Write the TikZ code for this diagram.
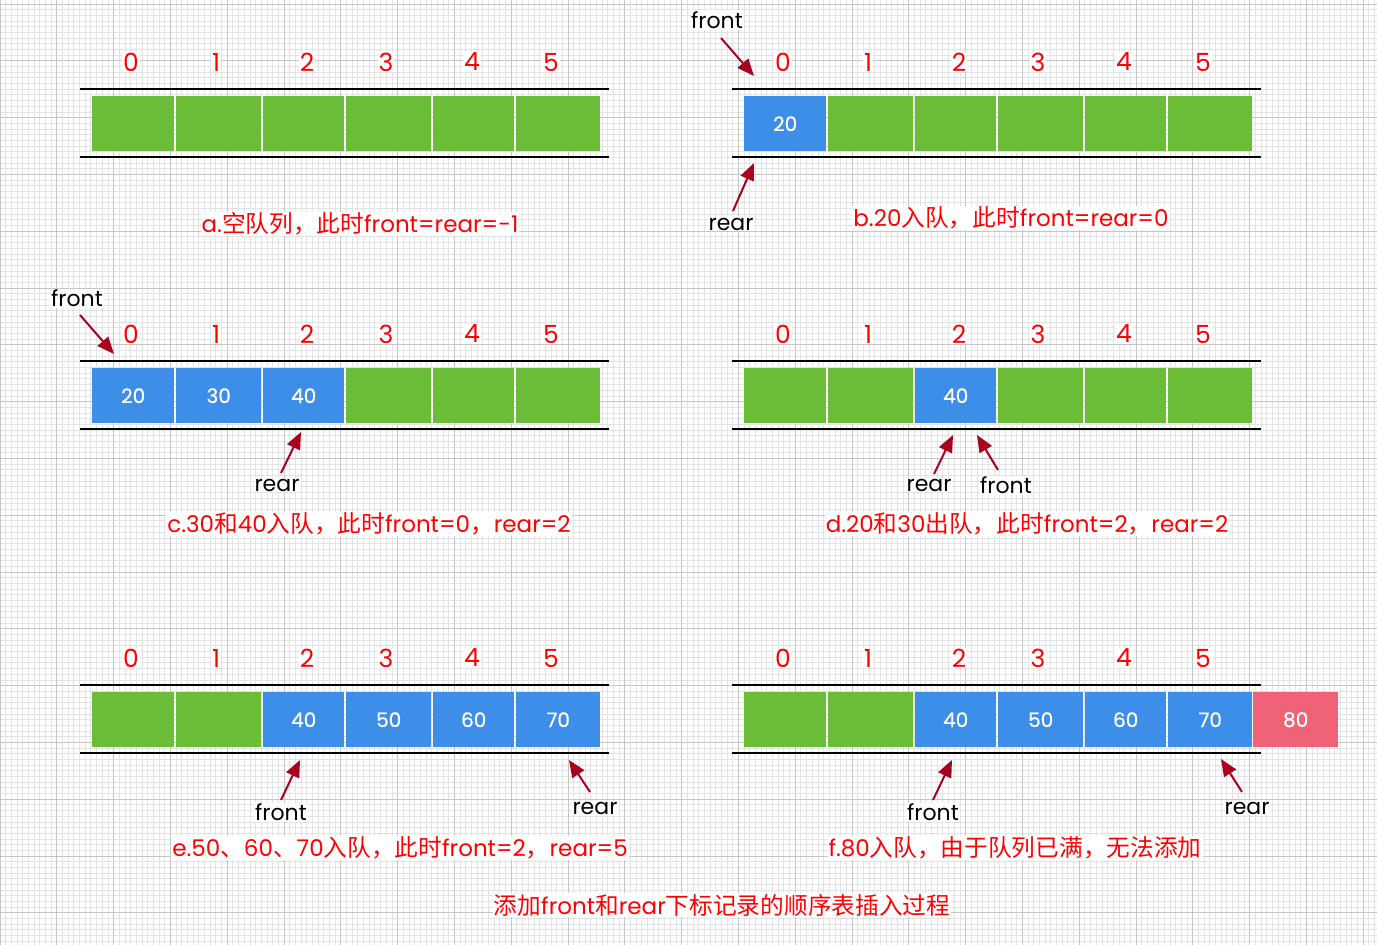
\documentclass[tikz,border=0pt]{standalone}
\usepackage{fontspec}
\setmainfont{Poppins}
\newfontfamily\cjk{Noto Sans CJK SC}[Scale=1.03]
\newfontfamily\cellfont{Poppins}[FakeBold=0.6]
\usetikzlibrary{arrows.meta}
\definecolor{cgreen}{HTML}{6BBD38}
\definecolor{cblue}{HTML}{3D8EE8}
\definecolor{cpink}{HTML}{F06278}
\definecolor{cred}{HTML}{FF0000}
\definecolor{carrow}{HTML}{A8001E}
\definecolor{gminor}{HTML}{E3E3E3}
\definecolor{gmajor}{HTML}{C6C6C6}
\tikzset{
  minorgrid/.style={draw=gminor,line width=0.8pt},
  majorgrid/.style={draw=gmajor,line width=1pt},
  rule/.style={draw=black,line width=2pt},
  cell/.style={draw=none,inner sep=0pt,minimum height=55pt,text=white,font=\cellfont\fontsize{20}{23}\selectfont},
  g/.style={fill=cgreen},
  b/.style={fill=cblue},
  p/.style={fill=cpink},
  idx/.style={text=cred,fill=white,inner sep=1pt,font=\fontsize{25}{28}\selectfont},
  lbl/.style={text=black,fill=white,inner sep=1pt,font=\fontsize{22}{26}\selectfont},
  captxt/.style={text=cred,fill=white,inner sep=1pt,font=\fontsize{23}{27}\selectfont},
  ptr/.style={draw=carrow,line width=2pt,-{Triangle[length=17pt,width=14pt,fill=carrow]}},
}
\newcommand\qrow[4]{%
  \draw[rule] (80+#2,#3) -- (609+#2,#3);
  \draw[rule] (80+#2,#3+68) -- (609+#2,#3+68);
  \foreach \x/\k in {131/0,216/1,307/2,386/3,472/4,551/5}{
    \node[idx] (#1i\k) at (\x+#2,#3-27) {\k};
  }
  \foreach \l/\r/\s/\t/\n in {#4}{
    \node[cell,\s,minimum width={\r-\l},anchor=north west] (#1c\n) at (\l+#2,#3+7) {\t};
  }
}
\begin{document}
\begin{tikzpicture}[x=1pt,y=-1pt]
\useasboundingbox (0,0) rectangle (1377,945);
\fill[white] (0,0) rectangle (1377,945);
% grid
\foreach \i in {0,...,243}{\draw[minorgrid] ({\i*5.68},0) -- ({\i*5.68},945);}
\foreach \i in {0,...,167}{\draw[minorgrid] (0,{4+(\i-1)*5.68}) -- (1377,{4+(\i-1)*5.68});}
\foreach \i in {0,...,24}{\draw[majorgrid] ({\i*56.8},0) -- ({\i*56.8},945);}
\foreach \i in {0,...,16}{\draw[majorgrid] (0,{4+\i*56.8}) -- (1377,{4+\i*56.8});}

% panel a
\qrow{a}{0}{89}{92/174/g/{}/0,176/261/g/{}/1,263/344/g/{}/2,346/431/g/{}/3,433/514/g/{}/4,516/600/g/{}/5}
\node[captxt] (capa) at (360,224) {a.{\cjk 空队列，此时}front=rear=-1};

% panel b
\qrow{b}{652}{89}{92/174/b/20/0,176/261/g/{}/1,263/344/g/{}/2,346/431/g/{}/3,433/514/g/{}/4,516/600/g/{}/5}
\node[lbl] (bfront) at (717,20) {front};
\node[lbl] (brear) at (731,224) {rear};
\coordinate (bft) at (721,38);
\coordinate (bfh) at (754,76);
\coordinate (brt) at (733,211);
\coordinate (brh) at (754,163);
\draw[ptr] (bft) -- (bfh);
\draw[ptr] (brt) -- (brh);
\node[captxt] (capb) at (1011,218) {b.20{\cjk 入队，此时}front=rear=0};

% panel c
\qrow{c}{0}{361}{92/174/b/20/0,176/261/b/30/1,263/344/b/40/2,346/431/g/{}/3,433/514/g/{}/4,516/600/g/{}/5}
\node[lbl] (cfront) at (77,298) {front};
\node[lbl] (crear) at (277,485) {rear};
\coordinate (cft) at (80,315);
\coordinate (cfh) at (114,354);
\coordinate (crt) at (281,473);
\coordinate (crh) at (301,432);
\draw[ptr] (cft) -- (cfh);
\draw[ptr] (crt) -- (crh);
\node[captxt] (capc) at (369,524) {c.30{\cjk 和}40{\cjk 入队，此时}front=0{\cjk ，}rear=2};

% panel d
\qrow{d}{652}{361}{92/174/g/{}/0,176/261/g/{}/1,263/344/b/40/2,346/431/g/{}/3,433/514/g/{}/4,516/600/g/{}/5}
\node[lbl] (drear) at (929,485) {rear};
\node[lbl] (dfront) at (1006,485) {front};
\coordinate (drt) at (934,474);
\coordinate (drh) at (953,435);
\coordinate (dft) at (998,470);
\coordinate (dfh) at (977,435);
\draw[ptr] (drt) -- (drh);
\draw[ptr] (dft) -- (dfh);
\node[captxt] (capd) at (1027,524) {d.20{\cjk 和}30{\cjk 出队，此时}front=2{\cjk ，}rear=2};

% panel e
\qrow{e}{0}{685}{92/174/g/{}/0,176/261/g/{}/1,263/344/b/40/2,346/431/b/50/3,433/514/b/60/4,516/600/b/70/5}
\node[lbl] (efront) at (281,812) {front};
\node[lbl] (erear) at (595,808) {rear};
\coordinate (eft) at (281,800);
\coordinate (efh) at (300,760);
\coordinate (ert) at (590,792);
\coordinate (erh) at (569,760);
\draw[ptr] (eft) -- (efh);
\draw[ptr] (ert) -- (erh);
\node[captxt] (cape) at (400,848) {e.50{\cjk 、}60{\cjk 、}70{\cjk 入队，此时}front=2{\cjk ，}rear=5};

% panel f
\qrow{f}{652}{685}{92/174/g/{}/0,176/261/g/{}/1,263/344/b/40/2,346/431/b/50/3,433/514/b/60/4,516/600/b/70/5,601/686/p/80/6}
\node[lbl] (ffront) at (933,812) {front};
\node[lbl] (frear) at (1247,808) {rear};
\coordinate (fft) at (933,800);
\coordinate (ffh) at (952,760);
\coordinate (frt) at (1242,792);
\coordinate (frh) at (1221,759);
\draw[ptr] (fft) -- (ffh);
\draw[ptr] (frt) -- (frh);
\node[captxt] (capf) at (1015,848) {f.80{\cjk 入队，由于队列已满，无法添加}};

\node[captxt] (title) at (722,905) {{\cjk 添加}front{\cjk 和}rear{\cjk 下标记录的顺序表插入过程}};
\end{tikzpicture}
\end{document}
